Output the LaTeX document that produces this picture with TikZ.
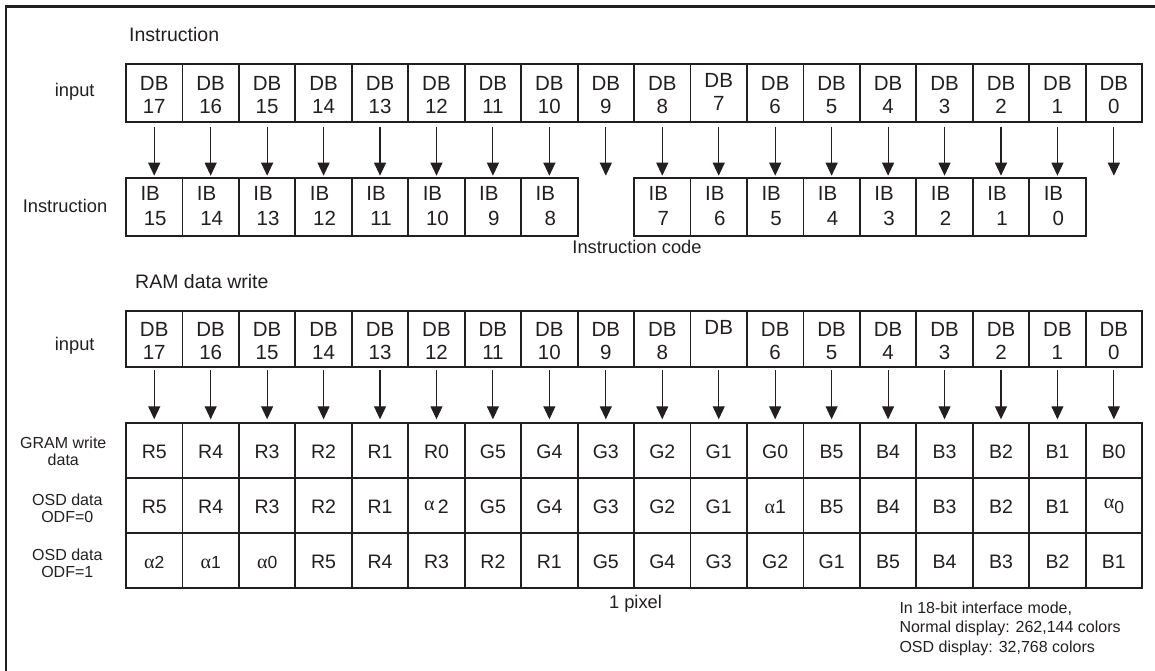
\documentclass[tikz,border=0pt]{standalone}
\usepackage{fontspec}
\setmainfont{Liberation Sans}
\newfontfamily\greekf{Liberation Serif}
\usetikzlibrary{arrows.meta}
\definecolor{ink}{RGB}{35,31,32}
\newcommand\alf{{\greekf\fontsize{20}{20}\selectfont α}}
\newcommand\sdig[1]{{\fontsize{17.5}{17.5}\selectfont #1}}
\begin{document}
\begin{tikzpicture}[x=1pt,y=-1pt,
  cell/.style={draw=ink, line width=1.8pt, minimum width=56.45pt, inner sep=0pt, outer sep=0pt},
  dbtxt/.style={anchor=base, inner sep=0pt, text=ink, font=\fontsize{20.5}{22}\selectfont},
  rtxt/.style={anchor=base, inner sep=0pt, text=ink, font=\fontsize{19.5}{22}\selectfont},
  lbl/.style={align=center, inner sep=0pt, text=ink, font=\fontsize{18.3}{21}\selectfont},
  slbl/.style={align=center, inner sep=0pt, text=ink, font=\fontsize{16}{17.5}\selectfont},
  ttl/.style={anchor=base west, inner sep=0pt, text=ink, font=\fontsize{19.5}{22}\selectfont},
  arr/.style={draw=ink, line width=1.1pt, -{Triangle[width=12pt,length=13pt]}}
]
\useasboundingbox (0,0) rectangle (1155,671);
% outer frame (top and left edges visible)
\draw[ink, line width=2.4pt] (5.7,671) -- (5.7,6.7) -- (1155,6.7);

% ===== Instruction section =====
\node[ttl] (ttlA) at (129,41.5) {Instruction};
\node[lbl, anchor=base] (inA) at (74.7,97) {input};
\node[lbl, anchor=base] (insA) at (65,212.5) {Instruction};

\foreach \n [count=\i from 0] in {17,16,...,0}{
  \pgfmathsetmacro\cx{154.225+56.45*\i}
  \pgfmathsetmacro\dy{\n==7 ? -3 : 0}
  \node[cell, minimum height=57.4pt] (ia\i) at (\cx,93) {};
  \node[dbtxt] (iat\i) at (\cx,91+\dy) {DB};
  \node[dbtxt] (ian\i) at (\cx,113.3+\dy) {\n};
}
\foreach \i/\n in {0/15,1/14,2/13,3/12,4/11,5/10,6/9,7/8,9/7,10/6,11/5,12/4,13/3,14/2,15/1,16/0}{
  \pgfmathsetmacro\cx{154.225+56.45*\i}
  \node[cell, minimum height=58.3pt] (ib\i) at (\cx,206.85) {};
  \node[dbtxt] (ibt\i) at (\cx-4,200) {IB};
  \node[dbtxt] (ibn\i) at (\cx+1,225.7) {\n};
  \draw[arr, shorten <=5pt, shorten >=2pt] (ia\i.south) -- (ib\i.north);
}
\foreach \i in {8,17}{
  \pgfmathsetmacro\cx{154.225+56.45*\i}
  \coordinate (ib\i) at (\cx,177.7);
  \draw[arr, shorten <=5pt, shorten >=2pt] (ia\i.south) -- (ib\i);
}
\node[lbl, anchor=base] (code) at (637,253) {Instruction code};

% ===== RAM data write section =====
\node[ttl] (ttlB) at (135,288) {RAM data write};
\node[lbl, anchor=base] (inB) at (74.7,350) {input};
\node[slbl] (gramL) at (63.3,451.5) {GRAM write\\data};
\node[slbl] (osd0L) at (67.3,508.5) {OSD data\\ODF=0};
\node[slbl] (osd1L) at (67.3,563.5) {OSD data\\ODF=1};

\foreach \n [count=\i from 0] in {17,16,...,0}{
  \pgfmathsetmacro\cx{154.225+56.45*\i}
  \node[cell, minimum height=56.6pt] (ra\i) at (\cx,339) {};
  \ifnum\n=7
    \node[dbtxt] (rat\i) at (\cx,334) {DB};
  \else
    \node[dbtxt] (rat\i) at (\cx,336.5) {DB};
    \node[dbtxt] (ran\i) at (\cx,359) {\n};
  \fi
}
\foreach \t [count=\i from 0] in {R5,R4,R3,R2,R1,R0,G5,G4,G3,G2,G1,G0,B5,B4,B3,B2,B1,B0}{
  \pgfmathsetmacro\cx{154.225+56.45*\i}
  \node[cell, minimum height=55pt] (g\i) at (\cx,450.8) {};
  \node[rtxt] (gt\i) at (\cx,458.3) {\t};
  \draw[arr, shorten <=3pt, shorten >=4pt] (ra\i.south) -- (g\i.north);
}
\foreach \t [count=\i from 0] in {R5,R4,R3,R2,R1,{\raisebox{3pt}{\alf}\,2},G5,G4,G3,G2,G1,{\alf 1},B5,B4,B3,B2,B1,{\raisebox{4.5pt}{\alf}\sdig{0}}}{
  \pgfmathsetmacro\cx{154.225+56.45*\i}
  \node[cell, minimum height=55pt] (o\i) at (\cx,505.8) {};
  \node[rtxt] (ot\i) at (\cx,513.3) {\t};
}
\foreach \t [count=\i from 0] in {{\alf\sdig{2}},{\alf\sdig{1}},{\alf\sdig{0}},R5,R4,R3,R2,R1,G5,G4,G3,G2,G1,B5,B4,B3,B2,B1}{
  \pgfmathsetmacro\cx{154.225+56.45*\i}
  \node[cell, minimum height=55pt] (p\i) at (\cx,560.8) {};
  \node[rtxt] (pt\i) at (\cx,568.3) {\t};
}
\node[lbl, anchor=base] (pix) at (635.5,608.3) {1 pixel};
\node[slbl, align=left, anchor=north west, font=\fontsize{16}{19.5}\selectfont] (note) at (899.3,601.5)
  {In 18-bit interface mode,\\Normal display: 262,144 colors\\OSD display: 32,768 colors};
\end{tikzpicture}
\end{document}
